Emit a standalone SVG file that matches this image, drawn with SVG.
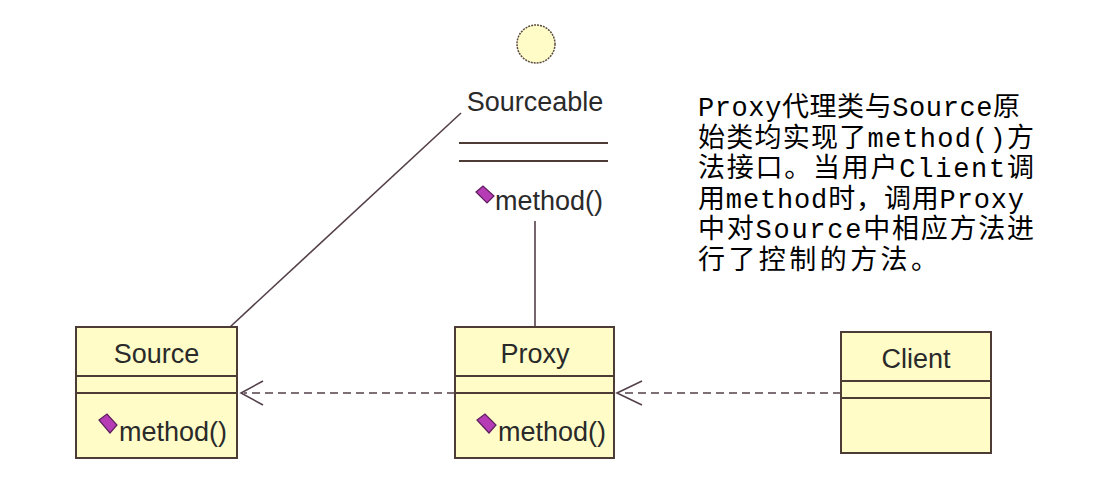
<svg xmlns="http://www.w3.org/2000/svg" width="1102" height="488" viewBox="0 0 1102 488">
<defs>
<style>
.box{fill:#fffcc8;stroke:#4d3b35;stroke-width:2}
.sep{stroke:#4d3b35;stroke-width:2}
.uml{font-family:"Liberation Sans",Arial,sans-serif;font-size:27px;fill:#2a2a2a}
.icon{fill:#b53cb5;stroke:#5e1f5e;stroke-width:1.2}
.conn{fill:none;stroke:#54404a;stroke-width:1.6}
.dash{stroke-dasharray:8 5}
.note{font-family:"Liberation Mono","Noto Sans CJK SC",monospace;font-size:27px;fill:#000}
</style>
</defs>
<rect width="1102" height="488" fill="#ffffff"/>
<g id="connectors">
<line class="conn" x1="461" y1="113" x2="230" y2="327"/>
<line class="conn" x1="535" y1="221" x2="535" y2="327"/>
<line class="conn dash" x1="841" y1="393" x2="620" y2="393"/>
<polyline class="conn" points="642,381 617,393 642,405"/>
<line class="conn dash" x1="455" y1="393" x2="244" y2="393"/>
<polyline class="conn" points="263,381 241,393 263,405"/>
</g>
<g id="Sourceable">
<circle cx="536" cy="44" r="19" fill="#fffcc8" stroke="#5a4a3e" stroke-width="1.5" stroke-dasharray="2 1"/>
<text class="uml" x="535" y="111" text-anchor="middle">Sourceable</text>
<line class="sep" x1="459" y1="143" x2="608" y2="143"/>
<line class="sep" x1="459" y1="161" x2="608" y2="161"/>
<polygon class="icon" points="476,192 483,186 494,196 487,203"/>
<text class="uml" x="495" y="210">method()</text>
</g>
<g id="Source">
<rect class="box" x="76" y="327" width="161" height="131"/>
<line class="sep" x1="76" y1="376" x2="237" y2="376"/>
<line class="sep" x1="76" y1="393" x2="237" y2="393"/>
<text class="uml" x="156.5" y="363" text-anchor="middle">Source</text>
<polygon class="icon" points="99,420 107,414 117,425 110,433"/>
<text class="uml" x="119" y="441">method()</text>
</g>
<g id="Proxy">
<rect class="box" x="455" y="327" width="159" height="131"/>
<line class="sep" x1="455" y1="376" x2="614" y2="376"/>
<line class="sep" x1="455" y1="393" x2="614" y2="393"/>
<text class="uml" x="535" y="363" text-anchor="middle">Proxy</text>
<polygon class="icon" points="477,420 485,414 496,425 489,433"/>
<text class="uml" x="498" y="441">method()</text>
</g>
<g id="Client">
<rect class="box" x="841" y="332" width="150" height="121"/>
<line class="sep" x1="841" y1="381" x2="991" y2="381"/>
<line class="sep" x1="841" y1="398" x2="991" y2="398"/>
<text class="uml" x="916" y="368" text-anchor="middle">Client</text>
</g>
<g id="note">
<text class="note" x="698" y="116" textLength="322" lengthAdjust="spacing">Proxy代理类与Source原</text>
<text class="note" x="698" y="146.6" textLength="336" lengthAdjust="spacing">始类均实现了method()方</text>
<text class="note" x="698" y="177.2" textLength="336" lengthAdjust="spacing">法接口。当用户Client调</text>
<text class="note" x="698" y="207.8" textLength="326" lengthAdjust="spacing">用method时，调用Proxy</text>
<text class="note" x="698" y="238.4" textLength="336" lengthAdjust="spacing">中对Source中相应方法进</text>
<text class="note" x="698" y="269" textLength="240" lengthAdjust="spacing">行了控制的方法。</text>
</g>
</svg>
